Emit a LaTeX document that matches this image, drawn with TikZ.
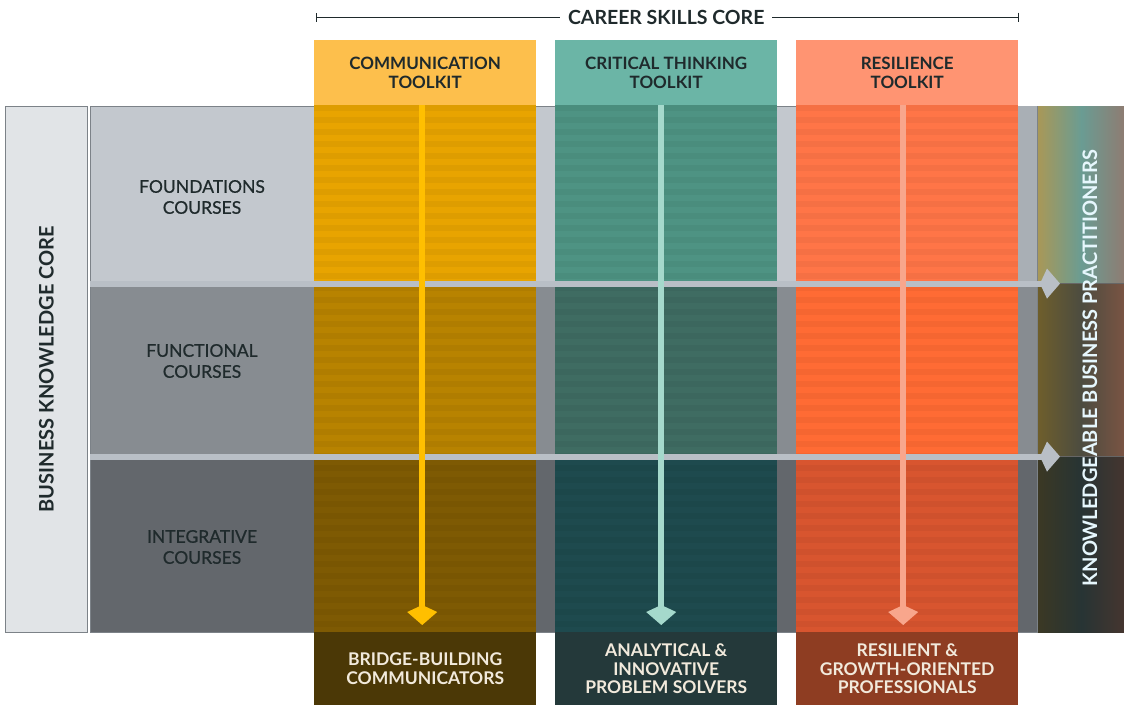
\documentclass[tikz,border=0pt]{standalone}
\usepackage{fontspec}
\setmainfont{Lato}
\newfontfamily\medfont[FakeBold=0.7]{Lato}
\usetikzlibrary{arrows.meta, positioning, calc}

\definecolor{inkdark}{HTML}{1F2A2C}
\definecolor{outtext}{HTML}{F2EADC}
\definecolor{rowedge}{HTML}{7C8288}
\definecolor{coregray}{HTML}{E1E4E7}
\definecolor{rowA}{HTML}{C3C8CE}
\definecolor{rowB}{HTML}{878C91}
\definecolor{rowC}{HTML}{63676C}
\definecolor{stripA}{HTML}{A9AFB5}
\definecolor{arrowgray}{HTML}{B9BFC6}
% toolkit columns: header, three rows, outcome, arrow
\definecolor{commhead}{HTML}{FDBF4C}
\definecolor{commA}{HTML}{E8A400}
\definecolor{commB}{HTML}{B88300}
\definecolor{commC}{HTML}{7E5A03}
\definecolor{commout}{HTML}{4B3806}
\definecolor{commarrow}{HTML}{FFBF00}
\definecolor{crithead}{HTML}{6BB5A6}
\definecolor{critA}{HTML}{4E9383}
\definecolor{critB}{HTML}{3F6C62}
\definecolor{critC}{HTML}{1E4A4E}
\definecolor{critout}{HTML}{24393A}
\definecolor{critarrow}{HTML}{A5D9CC}
\definecolor{reshead}{HTML}{FF9472}
\definecolor{resA}{HTML}{FF7547}
\definecolor{resB}{HTML}{FF6B34}
\definecolor{resC}{HTML}{D8552F}
\definecolor{resout}{HTML}{8E3D22}
\definecolor{resarrow}{HTML}{F8A68C}
% practitioners bar
\definecolor{kbpAl}{HTML}{A89858}
\definecolor{kbpAm}{HTML}{6A9C93}
\definecolor{kbpAr}{HTML}{8E7C72}
\definecolor{kbpBl}{HTML}{6E5E2C}
\definecolor{kbpBm}{HTML}{4C4C40}
\definecolor{kbpBr}{HTML}{7A5443}
\definecolor{kbpCl}{HTML}{3B3824}
\definecolor{kbpCm}{HTML}{273434}
\definecolor{kbpCr}{HTML}{45352F}

\begin{document}
\begin{tikzpicture}[x=1pt, y=-1pt,
    panel/.style={inner sep=0pt, anchor=north west, align=center},
    head/.style={panel, minimum width=222pt, minimum height=65pt,
        font=\fontsize{17}{19}\selectfont\bfseries, text=inkdark},
    outcome/.style={panel, minimum width=222pt, minimum height=73pt,
        font=\fontsize{17.5}{18.5}\selectfont\bfseries, text=outtext},
    band/.style={panel, minimum width=947pt, draw=rowedge, line width=0.6pt},
    rowlbl/.style={font=\medfont\fontsize{17.5}{21}\selectfont, text=inkdark, align=center},
    sidelbl/.style={rotate=90, font=\fontsize{20}{22}\selectfont\bfseries},
    flow/.style={line width=6pt, -{Kite[length=20pt, width=30pt, inset=7pt]}},
    bracket/.style={draw=inkdark, line width=0.9pt, {Bar[width=9pt]}-{Bar[width=9pt]}},
]
    \useasboundingbox (0,0) rectangle (1124,705);

    % course rows
    \node[band, fill=rowA, minimum height=177pt] (rfound) at (90,106) {};
    \node[band, fill=rowB, minimum height=173pt] (rfunc) at (90,283) {};
    \node[band, fill=rowC, minimum height=176pt] (rinteg) at (90,456) {};
    \fill[stripA] (1018,106) rectangle (1037,283);

    \node[rowlbl] (lfound) at (202,197) {FOUNDATIONS\\COURSES};
    \node[rowlbl] (lfunc) at (202,361) {FUNCTIONAL\\COURSES};
    \node[rowlbl] (linteg) at (202,547) {INTEGRATIVE\\COURSES};

    % left and right side bars
    \node[panel, fill=coregray, draw=rowedge, line width=0.6pt,
        minimum width=82pt, minimum height=526pt] (bkc) at (5,106) {};
    \node[sidelbl, text=inkdark] (bkctext) at (bkc.center) {BUSINESS KNOWLEDGE CORE};

    \node[panel, minimum width=86pt, minimum height=177pt, left color=kbpAl,
        right color=kbpAr, middle color=kbpAm] (kbp1) at (1038,106) {};
    \node[panel, minimum width=86pt, minimum height=173pt, left color=kbpBl,
        right color=kbpBr, middle color=kbpBm] (kbp2) at (1038,283) {};
    \node[panel, minimum width=86pt, minimum height=176pt, left color=kbpCl,
        right color=kbpCr, middle color=kbpCm] (kbp3) at (1038,456) {};
    \draw[black!60, line width=0.6pt] (kbp1.south west) -- (kbp1.south east);
    \draw[black!60, line width=0.6pt] (kbp2.south west) -- (kbp2.south east);
    \node[sidelbl, text=white!90!cyan] (kbptext)
        at (1090,368) {KNOWLEDGEABLE BUSINESS PRACTITIONERS};

    % toolkit columns with faint stripes
    \foreach \cx/\ca/\cb/\cc in {314/commA/commB/commC, 555/critA/critB/critC, 796/resA/resB/resC} {
        \fill[\ca] (\cx,105) rectangle ++(222,178);
        \fill[\cb] (\cx,283) rectangle ++(222,173);
        \fill[\cc] (\cx,456) rectangle ++(222,176);
        \foreach \s in {0,...,43}
            \fill[black, opacity=0.04] (\cx,{105+12*\s}) rectangle ++(222,6);
    }

    \node[head, fill=commhead] (hcomm) at (314,40) {COMMUNICATION\\TOOLKIT};
    \node[head, fill=crithead] (hcrit) at (555,40) {CRITICAL THINKING\\TOOLKIT};
    \node[head, fill=reshead] (hres) at (796,40) {RESILIENCE\\TOOLKIT};

    \node[outcome, fill=commout] (ocomm) at (314,632) {BRIDGE-BUILDING\\COMMUNICATORS};
    \node[outcome, fill=critout] (ocrit) at (555,632) {ANALYTICAL \&\\INNOVATIVE\\PROBLEM SOLVERS};
    \node[outcome, fill=resout] (ores) at (796,632) {RESILIENT \&\\GROWTH-ORIENTED\\PROFESSIONALS};

    % career skills bracket
    \draw[bracket] ($(hcomm.north west)+(2,-23)$) -- ($(hres.north east)+(0,-23)$);
    \node[fill=white, inner xsep=8pt, font=\fontsize{19.5}{22}\selectfont\bfseries, text=inkdark]
        (core) at ($(hcomm.north west)!0.5!(hres.north east)+(0,-23)$) {CAREER SKILLS CORE};

    % knowledge flows into practitioners
    \draw[flow, draw=arrowgray] (rfound.south west) -- ($(rfound.south west -| kbp1.west)+(22,0)$);
    \draw[flow, draw=arrowgray] (rfunc.south west) -- ($(rfunc.south west -| kbp2.west)+(22,0)$);

    % toolkits flow down to outcomes
    \draw[flow, draw=commarrow] ($(hcomm.south)+(-3,0)$) -- ($(ocomm.north)+(-3,-7)$);
    \draw[flow, draw=critarrow] ($(hcrit.south)+(-5,0)$) -- ($(ocrit.north)+(-5,-7)$);
    \draw[flow, draw=resarrow] ($(hres.south)+(-4,0)$) -- ($(ores.north)+(-4,-7)$);
\end{tikzpicture}
\end{document}
